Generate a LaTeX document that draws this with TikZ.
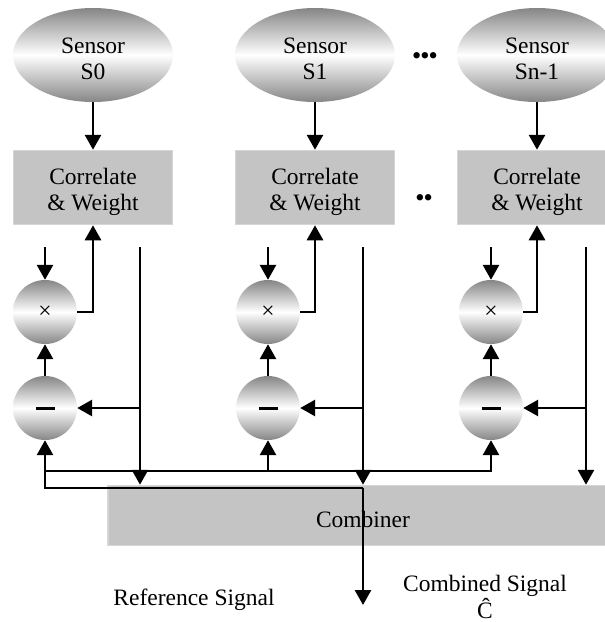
\documentclass[tikz,border=0pt]{standalone}
\usepackage{fontspec}
\setmainfont{Liberation Serif}
\usetikzlibrary{shapes.geometric,arrows.meta}
\definecolor{boxgray}{RGB}{196,196,196}
\definecolor{boxedge}{RGB}{214,214,214}
\newcommand\lowtxt[2]{\raisebox{-#1}[\height][\depth]{\begin{tabular}{@{}c@{}}#2\end{tabular}}}
\begin{document}
\begin{tikzpicture}[x=1pt,y=-1pt,
  txt/.style={font=\fontsize{23.5}{26}\selectfont},
  arr/.style={-{Triangle[width=16pt,length=15pt]}, line width=2.9pt},
  sensor/.style={ellipse, minimum width=160pt, minimum height=94pt, inner sep=0pt,
    top color=gray!95, bottom color=gray!95, middle color=white, txt},
  cw/.style={rectangle, minimum width=159pt, minimum height=74pt, inner sep=0pt,
    fill=boxgray, draw=boxedge, line width=1.5pt, txt},
  op/.style={circle, minimum size=64pt, inner sep=0pt,
    top color=gray!95, bottom color=gray!95, middle color=white, txt},
  comb/.style={rectangle, minimum width=510pt, minimum height=60pt, inner sep=0pt,
    fill=boxgray, draw=boxedge, line width=1.5pt, txt},
  lbl/.style={txt, align=center, inner sep=0pt}
]
\useasboundingbox (0,0) rectangle (605,622);

% sensors
\node[sensor] (s0) at (93,55) {\lowtxt{6pt}{Sensor\\S0}};
\node[sensor] (s1) at (315,55) {\lowtxt{6pt}{Sensor\\S1}};
\node[sensor] (s2) at (537,55) {\lowtxt{6pt}{Sensor\\Sn-1}};

% correlate & weight boxes
\node[cw] (c0) at (93,187.5) {\lowtxt{4.5pt}{Correlate\\\& Weight}};
\node[cw] (c1) at (315,187.5) {\lowtxt{4.5pt}{Correlate\\\& Weight}};
\node[cw] (c2) at (537,187.5) {\lowtxt{4.5pt}{Correlate\\\& Weight}};

% dots
\node[lbl] (dt1) at (425,58) {\textbf{•••}};
\node[lbl] (dt2) at (424,200) {\textbf{••}};

% operators
\node[op] (m0) at (45,312) {×};
\node[op] (m1) at (268,312) {×};
\node[op] (m2) at (491,312) {×};
\node[op] (d0) at (45,408) {\rule{19pt}{3pt}};
\node[op] (d1) at (268,408) {\rule{19pt}{3pt}};
\node[op] (d2) at (491,408) {\rule{19pt}{3pt}};

% combiner
\node[comb] (cb) at (363,515.5) {\raisebox{-4pt}[\height][\depth]{Combiner}};

% labels
\node[lbl, anchor=base] (ref) at (194,605) {Reference Signal};
\node[lbl, font=\fontsize{23.5}{24}\selectfont] (cs) at (485,597) {Combined Signal\\Ĉ};

% free coordinates
\coordinate (in0) at (45,247);
\coordinate (in1) at (268,247);
\coordinate (in2) at (491,247);
\coordinate (v0) at (140,247);
\coordinate (v1) at (363,247);
\coordinate (v2) at (586,247);
\coordinate (j) at (363,488);
\coordinate (b) at (45,471);
\coordinate (out) at (363,605);

% sensor -> box
\draw[arr] (s0) -- (c0);
\draw[arr] (s1) -- (c1);
\draw[arr] (s2) -- (c2);

% per-channel connections
\foreach \i in {0,1,2}{
  \draw[arr] (in\i) -- (m\i);
  \draw[arr] (d\i) -- (m\i);
  \draw[arr] (m\i.east) -| (c\i.south);
  \draw[arr] (v\i) -- (v\i |- cb.north);
  \draw[arr] (v\i |- d\i) -- (d\i.east);
}

% reference / feedback bus
\draw[arr] (j) -| (d0.south);
\draw[arr] (b) -| (d2.south);
\draw[arr] (b -| d1) -- (d1.south);
\draw[arr] (j) -- (out);
\end{tikzpicture}
\end{document}
